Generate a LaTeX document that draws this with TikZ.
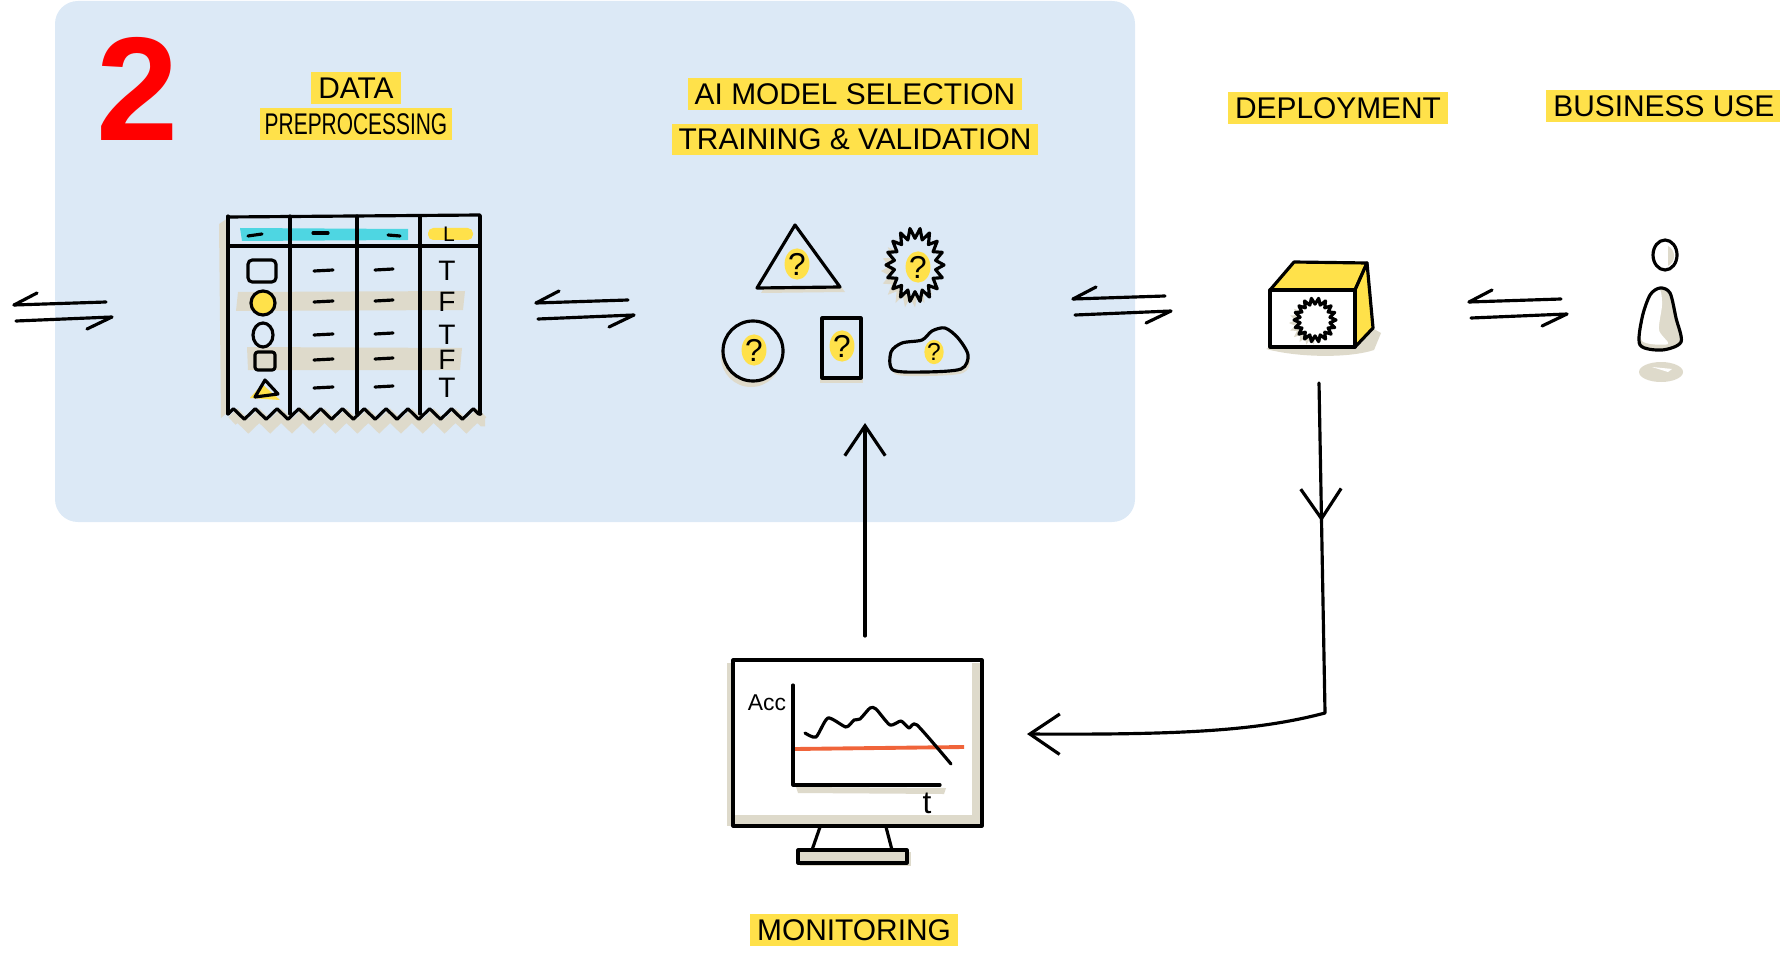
\documentclass[tikz,border=0pt]{standalone}
\usepackage{fontspec}
\usepackage{tikz}
\usetikzlibrary{positioning,arrows.meta,shapes.geometric,decorations.pathmorphing,decorations.markings}
\newfontfamily\handfont{Liberation Sans}
\definecolor{PanelBlue}{HTML}{DCE9F6}
\definecolor{MarkerYellow}{HTML}{FFE14A}
\definecolor{PaperShade}{HTML}{DEDACB}
\definecolor{HeaderCyan}{HTML}{4ED6E2}
\definecolor{StepRed}{HTML}{FF0000}
\definecolor{LimitRed}{HTML}{F0643A}
% spiky ring around (#1,#2) with radii #3,#4
\newcommand{\spikering}[4]{(#1+#3,#2) \foreach \a in {10,20,...,350}{ -- ({#1+ifthenelse(mod(\a,20)==0,1,0.72)*#3*cos(\a)},{#2+ifthenelse(mod(\a,20)==0,1,0.72)*#4*sin(\a)})} -- cycle}

\begin{document}
\begin{tikzpicture}[x=0.01cm,y=-0.01cm,>={Straight Barb[length=8.5pt,width=11.5pt]},
 ink/.style={line width=0.9pt,line cap=round,line join=round},
 tag/.style={fill=MarkerYellow,inner xsep=2pt,inner ysep=1.5pt,font=\handfont\fontsize{8.5}{10}\selectfont},
 cell/.style={inner sep=0pt,font=\handfont\fontsize{8}{9}\selectfont},
 qmark/.style={ellipse,fill=MarkerYellow,inner sep=0pt,minimum width=5.5pt,minimum height=8.5pt,font=\handfont\fontsize{9}{9}\selectfont},
 exch/.pic={\draw[ink] (-49,-7) -- (43,-10); \draw[ink] (-49,-7) -- ++(23,-12);
  \draw[ink] (-47,9) -- (49,5) -- ++(-25,12);}]
\useasboundingbox (0,0) rectangle (1780,952);
\fill[PanelBlue,rounded corners=6.5pt] (55,1) rectangle (1135,522);
\node[inner sep=0pt,text=StepRed,font=\handfont\bfseries\fontsize{42}{42}\selectfont] (stepNo) at (138,89) {2};

% stage titles
\node[tag] (dataLbl) at (356,88) {DATA};
\node[tag,xscale=0.7,below=1pt of dataLbl] (prepLbl) {PREPROCESSING};
\node[tag] (selLbl) at (855,94) {AI MODEL SELECTION};
\node[tag,below=3.5pt of selLbl] (trainLbl) {TRAINING \& VALIDATION};
\node[tag] (depLbl) at (1338,108) {DEPLOYMENT};
\node[tag,anchor=east] (useLbl) at (1782,106) {BUSINESS USE};
\node[tag] (monLbl) at (854,930) {MONITORING};

% data table
\fill[PaperShade] (219,224) -- (228,218) -- (228,412) -- (221,418) -- cycle;
\fill[HeaderCyan] (240,228) -- (408,229) -- (408,240) -- (242,241) -- cycle;
\fill[MarkerYellow,rounded corners=1.5pt] (428,228) rectangle (473,240);
\fill[PaperShade] (238,292) -- (465,291) -- (463,310) -- (236,311) -- cycle;
\fill[PaperShade] (247,347) -- (462,348) -- (460,370) -- (248,370) -- cycle;
\draw[PaperShade,line width=3pt,decorate,decoration={zigzag,amplitude=1.5pt,segment length=6.2pt}] (232,421) -- (485,421);
\draw[ink] (228,217) -- (480,215);
\draw[ink] (228,246) -- (480,246);
\foreach \cx in {228,290,357,420,480} \draw[ink] (\cx,216) -- (\cx,414);
\draw[ink,decorate,decoration={zigzag,amplitude=1.5pt,segment length=6.2pt}] (228,414) -- (481,414);
\draw[ink] (248,236) -- (262,234);
\draw[ink] (313,233) -- (328,233);
\draw[ink] (388,235) -- (400,236);
\node[cell,font=\handfont\fontsize{6}{6}\selectfont] (headL) at (449,234) {L};
\foreach \y/\v [count=\r] in {271/T,302/F,335/T,360/F,388/T}{
  \node[cell] (flag\r) at (447,\y) {\v};
  \draw[ink] (314,\y) -- (333,\y-1);
  \draw[ink] (375,\y-1) -- (393,\y-2);
}
\draw[ink,rounded corners=1.2pt] (248,260) rectangle (276,282);
\draw[ink,fill=MarkerYellow] (263,303) circle[radius=12];
\draw[ink] (263,335) ellipse[x radius=10,y radius=12];
\draw[ink,rounded corners=0.8pt] (255,352) rectangle (275,370);
\fill[MarkerYellow] (262,384) -- (250,398) -- (280,400) -- cycle;
\draw[ink] (265,380) -- (255,397) -- (278,394) -- cycle;

% candidate models
\fill[PaperShade] (799,231) -- (761,293) -- (845,292) -- cycle;
\draw[ink,fill=PanelBlue] (795,225) -- (757,288) -- (840,287) -- cycle;
\fill[PaperShade] \spikering{910}{271}{29}{37};
\draw[ink,fill=PanelBlue] \spikering{915}{265}{29}{37};
\fill[PaperShade] (751,357) circle[radius=30];
\draw[ink,fill=PanelBlue] (753,351) circle[radius=30];
\fill[PaperShade] (820,323) rectangle (863,383);
\draw[ink,fill=PanelBlue] (822,318) rectangle (861,378);
\fill[PaperShade] plot[smooth cycle] coordinates {(895,374) (893,356) (904,347) (924,344) (934,335) (947,332) (960,342) (970,359) (963,373) (927,376)};
\draw[ink,fill=PanelBlue] plot[smooth cycle] coordinates {(893,370) (891,352) (902,343) (922,340) (932,331) (945,328) (958,338) (968,355) (961,369) (925,372)};
\node[qmark] (q1) at (797,264) {?};
\node[qmark] (q2) at (918,267) {?};
\node[qmark] (q3) at (754,350) {?};
\node[qmark] (q4) at (842,346) {?};
\node[qmark,minimum height=6pt,font=\handfont\fontsize{7}{7}\selectfont] (q5) at (934,352) {?};

% deployed model
\fill[PaperShade] (1266,349) .. controls (1300,358) and (1350,358) .. (1374,350) -- (1381,333) -- (1372,328) -- (1355,347) -- (1270,347) -- cycle;
\draw[ink,fill=MarkerYellow] (1270,290) -- (1294,262) -- (1367,263) -- (1355,290) -- cycle;
\draw[ink,fill=MarkerYellow] (1355,290) -- (1367,263) -- (1373,328) -- (1355,347) -- cycle;
\draw[ink,fill=white] (1270,290) rectangle (1355,347);
\fill[PaperShade] \spikering{1310}{323}{21}{22};
\draw[ink,fill=white] \spikering{1315}{320}{21}{22};

% business user
\fill[PaperShade] (1661,372) ellipse[x radius=22,y radius=10];
\fill[white] (1652,367) -- (1672,369) -- (1668,372) -- cycle;
\fill[PaperShade] plot[smooth cycle] coordinates {(1640,345) (1642,318) (1650,295) (1660,288) (1670,293) (1676,318) (1681,342) (1662,350)};
\fill[white] plot[smooth cycle] coordinates {(1642,341) (1644,316) (1651,296) (1660,290) (1662,305) (1659,330) (1668,344)};
\draw[ink] plot[smooth cycle] coordinates {(1640,345) (1642,318) (1650,295) (1660,288) (1670,293) (1676,318) (1681,342) (1662,350)};
\draw[ink,fill=white] (1665,255) ellipse[x radius=12,y radius=15];
\fill[PaperShade] (1668,246) .. controls (1676,250) and (1676,262) .. (1668,266) -- cycle;

% monitoring screen
\fill[PaperShade] (727,663) rectangle (982,826);
\fill[white] (734,661) rectangle (972,815);
\draw[ink] (733,660) rectangle (982,826);
\draw[ink] (820,827) -- (812,850);
\draw[ink] (886,827) -- (892,850);
\fill[PaperShade] (800,852) rectangle (911,866);
\draw[ink] (798,850) rectangle (907,863);
\fill[PaperShade] (796,787) -- (946,788) -- (944,794) -- (798,793) -- cycle;
\draw[LimitRed,line width=1.1pt] (794,749) -- (964,747);
\draw[ink] (793,685) -- (793,785) -- (940,785);
\draw[ink] plot[smooth,tension=0.4] coordinates {(805,733) (816,737) (828,718) (846,727) (854,720) (860,719) (870,708) (876,709) (890,725) (901,721) (909,728) (917,725) (951,764)};
\node[cell,font=\handfont\fontsize{6.5}{7}\selectfont] (accLbl) at (767,703) {Acc};
\node[cell,font=\handfont\fontsize{9}{9}\selectfont] (tLbl) at (927,803) {t};

% flow between the stages
\pic (ex1) at (63,312) {exch};
\pic (ex2) at (585,310) {exch};
\pic (ex3) at (1122,306) {exch};
\pic (ex4) at (1518,309) {exch};
\coordinate (monOut) at (865,636);
\coordinate (modIn) at (865,423);
\coordinate (depOut) at (1319,383);
\coordinate (depBend) at (1325,713);
\coordinate (monIn) at (1027,734);
\draw[ink,->] (monOut) -- (modIn);
\draw[ink,->,postaction={decorate},decoration={markings,mark=at position 0.22 with {\arrow{>}}}]
  (depOut) -- (depBend) .. controls (1260,730) and (1190,735) .. (monIn);
\end{tikzpicture}
\end{document}
